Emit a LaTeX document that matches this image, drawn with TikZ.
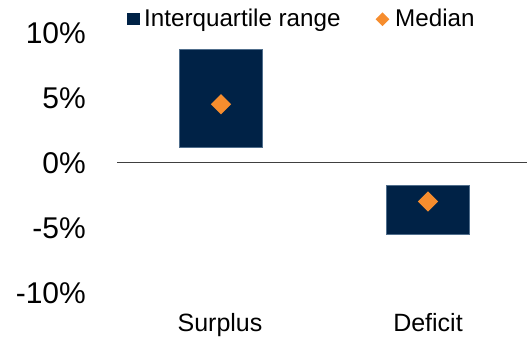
\documentclass[tikz,border=0pt]{standalone}
\usepackage{fontspec}
\setmainfont{Liberation Sans}
\usetikzlibrary{shapes.geometric}
\definecolor{navy}{RGB}{0,34,70}
\definecolor{bedge}{RGB}{80,110,140}
\definecolor{orng}{RGB}{246,141,46}
\definecolor{zline}{RGB}{64,64,64}
\tikzset{
  ax/.style={anchor=base east, inner sep=0pt, font=\fontsize{30}{30}\selectfont},
  cat/.style={anchor=base, inner sep=0pt, font=\fontsize{25}{25}\selectfont},
  leg/.style={anchor=base west, inner sep=0pt, font=\fontsize{24.2}{24.2}\selectfont},
  iqr/.style={fill=navy, draw=bedge, line width=0.6pt},
  med/.style={diamond, fill=orng, inner sep=0pt, minimum size=20.5pt},
}
\begin{document}
\begin{tikzpicture}[x=1pt,y=-1pt]
\useasboundingbox (0,0) rectangle (527,339);
% axis labels
\node[ax] (l10) at (86,43.3) {10\%};
\node[ax] (l5) at (86,108.3) {5\%};
\node[ax] (l0) at (86,173.3) {0\%};
\node[ax] (lm5) at (86,238.3) {-5\%};
\node[ax] (lm10) at (86,303.3) {-10\%};
% zero line
\draw[zline, line width=1.2pt] (117,162.3) -- (527,162.3);
% bars
\draw[iqr] (179.5,49.5) rectangle (262.7,147.3);
\draw[iqr] (386.7,185.3) rectangle (469.3,234.3);
\node[med] (m1) at (221,104.3) {};
\node[med] (m2) at (428,201.5) {};
% categories
\node[cat] (c1) at (220,331.5) {Surplus};
\node[cat] (c2) at (428,331.5) {Deficit};
% legend
\fill[navy] (127,12.7) rectangle (139.5,25.5);
\node[leg] (t1) at (144,26.7) {Interquartile range};
\node[diamond, fill=orng, inner sep=0pt, minimum size=14pt] (d1) at (382.5,19.2) {};
\node[leg] (t2) at (395,26.7) {Median};
\end{tikzpicture}
\end{document}
